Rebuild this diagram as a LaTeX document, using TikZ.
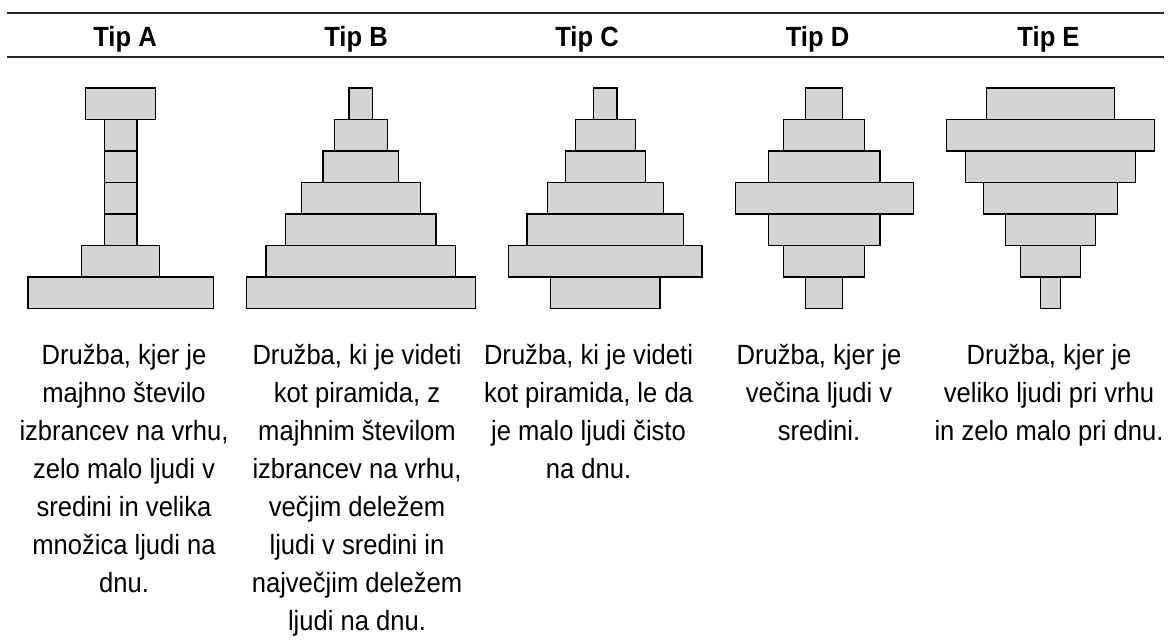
\documentclass[tikz,border=0pt]{standalone}
\usepackage{fontspec}
\setmainfont{Liberation Sans}[FakeStretch=0.92]
\newfontfamily\hdfont{Liberation Sans}[FakeStretch=0.92]
\begin{document}
\begin{tikzpicture}[x=1pt,y=-1pt,
  bar/.style={draw=black,fill=bargray,line width=1.5pt},
  rule/.style={draw=black!85,line width=1.6pt},
  head/.style={font=\hdfont\bfseries\fontsize{27.8}{32}\selectfont,anchor=base,inner sep=0pt},
  desc/.style={font=\fontsize{27.8}{38}\selectfont,align=center,anchor=north,inner sep=0pt}]
\definecolor{bargray}{RGB}{211,211,213}
\useasboundingbox (0,0) rectangle (1168,642);
% table rules
\coordinate (tl) at (7,13.3); \coordinate (tr) at (1164,13.3);
\coordinate (bl) at (7,57.3); \coordinate (br) at (1164,57.3);
\draw[rule] (tl) -- (tr);
\draw[rule] (bl) -- (br);
% headers
\node[head] (hA) at (125,46.5) {Tip A};
\node[head] (hB) at (356,46.5) {Tip B};
\node[head] (hC) at (587,46.5) {Tip C};
\node[head] (hD) at (817.5,46.5) {Tip D};
\node[head] (hE) at (1048.5,46.5) {Tip E};
% row boundaries: 88,119.5,151,182.5,214,245.5,277,308.5
% Tip A
\draw[bar] (85.3,88) rectangle (155.7,119.5);
\draw[bar] (104.3,119.5) rectangle (137,151);
\draw[bar] (104.3,151) rectangle (137,182.5);
\draw[bar] (104.3,182.5) rectangle (137,214);
\draw[bar] (104.3,214) rectangle (137,245.5);
\draw[bar] (81.7,245.5) rectangle (159.7,277);
\draw[bar] (28,277) rectangle (213.3,308.5);
% Tip B
\draw[bar] (349,88) rectangle (372.3,119.5);
\draw[bar] (334.3,119.5) rectangle (387.3,151);
\draw[bar] (323,151) rectangle (398.7,182.5);
\draw[bar] (301.3,182.5) rectangle (420.7,214);
\draw[bar] (285.7,214) rectangle (436,245.5);
\draw[bar] (266,245.5) rectangle (455.7,277);
\draw[bar] (246.3,277) rectangle (475.3,308.5);
% Tip C
\draw[bar] (593.7,88) rectangle (617,119.5);
\draw[bar] (575.3,119.5) rectangle (635.3,151);
\draw[bar] (565.7,151) rectangle (645.3,182.5);
\draw[bar] (547.7,182.5) rectangle (663.3,214);
\draw[bar] (527,214) rectangle (683.7,245.5);
\draw[bar] (508.7,245.5) rectangle (702,277);
\draw[bar] (550.7,277) rectangle (660,308.5);
% Tip D
\draw[bar] (805.7,88) rectangle (842.7,119.5);
\draw[bar] (783.7,119.5) rectangle (864.7,151);
\draw[bar] (768.7,151) rectangle (880,182.5);
\draw[bar] (735.3,182.5) rectangle (913.3,214);
\draw[bar] (768.7,214) rectangle (880,245.5);
\draw[bar] (783.7,245.5) rectangle (864.7,277);
\draw[bar] (805.7,277) rectangle (842.7,308.5);
% Tip E
\draw[bar] (986.3,88) rectangle (1114.3,119.5);
\draw[bar] (946.7,119.5) rectangle (1154.3,151);
\draw[bar] (965.7,151) rectangle (1135.3,182.5);
\draw[bar] (983.3,182.5) rectangle (1117.7,214);
\draw[bar] (1005.3,214) rectangle (1095.7,245.5);
\draw[bar] (1020.7,245.5) rectangle (1080.3,277);
\draw[bar] (1040.7,277) rectangle (1060.3,308.5);
% descriptions
\node[desc] (dA) at (124,344) {Družba, kjer je\\majhno število\\izbrancev na vrhu,\\zelo malo ljudi v\\sredini in velika\\množica ljudi na\\dnu.};
\node[desc] (dB) at (357,344) {Družba, ki je videti\\kot piramida, z\\majhnim številom\\izbrancev na vrhu,\\večjim deležem\\ljudi v sredini in\\največjim deležem\\ljudi na dnu.};
\node[desc] (dC) at (588.5,344) {Družba, ki je videti\\kot piramida, le da\\je malo ljudi čisto\\na dnu.};
\node[desc] (dD) at (819,344) {Družba, kjer je\\večina ljudi v\\sredini.};
\node[desc] (dE) at (1049,344) {Družba, kjer je\\veliko ljudi pri vrhu\\in zelo malo pri dnu.};
\end{tikzpicture}
\end{document}
